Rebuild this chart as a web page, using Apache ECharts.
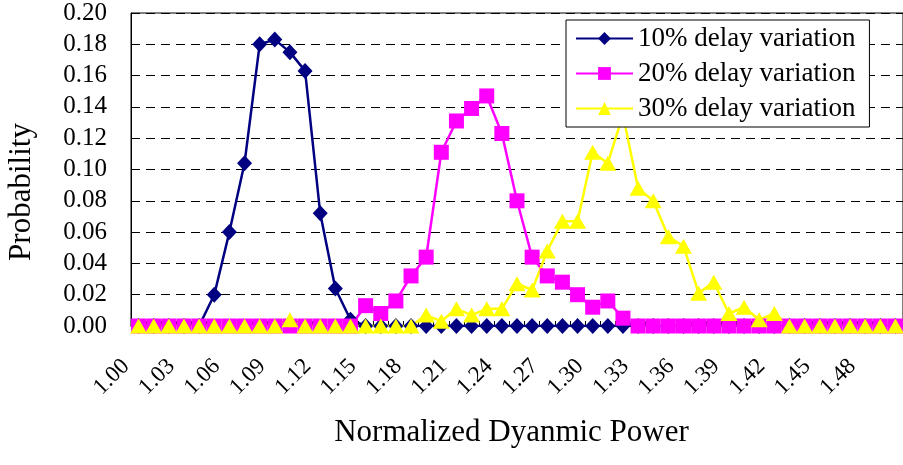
<!DOCTYPE html>
<html>
<head>
<meta charset="utf-8">
<script src="https://cdn.jsdelivr.net/npm/echarts@6/dist/echarts.min.js"></script>
<style>
html,body{margin:0;padding:0;background:#fff;}
#chart{width:903px;height:465px;}
</style>
</head>
<body>
<div id="chart"></div>
<script>
var categories = ['1.00','1.01','1.02','1.03','1.04','1.05','1.06','1.07','1.08','1.09',
  '1.10','1.11','1.12','1.13','1.14','1.15','1.16','1.17','1.18','1.19',
  '1.20','1.21','1.22','1.23','1.24','1.25','1.26','1.27','1.28','1.29',
  '1.30','1.31','1.32','1.33','1.34','1.35','1.36','1.37','1.38','1.39',
  '1.40','1.41','1.42','1.43','1.44','1.45','1.46','1.47','1.48','1.49','1.50'];

var var10 = [0,0,0,0,0,0.020,0.060,0.104,0.180,0.183,
  0.175,0.163,0.072,0.024,0.004,0,0,0,0,0,
  0,0,0,0,0,0,0,0,0,0,
  0,0,0,0,0,0,0,0,0,0,
  0,0,0,0,0,0,0,0,0,0,0];

var var20 = [0,0,0,0,0,0,0,0,0,0,
  0,0,0,0,0,0.013,0.008,0.016,0.032,0.044,
  0.111,0.131,0.139,0.147,0.123,0.080,0.044,0.032,0.028,0.020,
  0.012,0.016,0.005,0,0,0,0,0,0,0,
  0,0,0,0,0,0,0,0,0,0,0];

var var30 = [0,0,0,0,0,0,0,0,0,0,
  0.004,0,0,0,0,0,0,0,0,0.007,
  0.003,0.011,0.007,0.011,0.011,0.027,0.023,0.048,0.067,0.067,
  0.111,0.104,0.135,0.088,0.080,0.057,0.051,0.021,0.028,0.008,
  0.012,0.004,0.008,0,0,0,0,0,0,0,0];

var seriesNames = ['10% delay variation','20% delay variation','30% delay variation'];
var xTitle = 'Normalized Dyanmic Power';
var yTitle = 'Probability';

var FONT = "'Liberation Serif', 'Times New Roman', serif";

var chart = echarts.init(document.getElementById('chart'), null, {renderer: 'canvas'});
chart.setOption({
  animation: false,
  backgroundColor: '#fff',
  grid: {
    left: 131, top: 13, width: 793.6, height: 313,
    show: true, borderColor: '#000', borderWidth: 1, backgroundColor: 'transparent'
  },
  legend: {
    orient: 'vertical',
    left: 566, top: 20,
    padding: [5, 14, 5, 9],
    itemGap: 8,
    itemWidth: 57,
    itemHeight: 16,
    backgroundColor: '#fff',
    borderColor: '#000',
    borderWidth: 1,
    textStyle: {fontFamily: FONT, fontSize: 27, lineHeight: 26, color: '#000'},
    data: seriesNames
  },
  xAxis: {
    type: 'category',
    data: categories,
    boundaryGap: true,
    axisLine: {show: true, lineStyle: {color: '#000', width: 1}},
    axisTick: {show: true, inside: true, length: 5, interval: 0, lineStyle: {color: '#000'}},
    axisLabel: {
      interval: 2, rotate: 45, margin: 24, padding: [0, 18, 0, 0],
      fontFamily: FONT, fontSize: 23, color: '#000'
    },
    splitLine: {show: false}
  },
  yAxis: {
    type: 'value',
    min: 0, max: 0.2, interval: 0.02,
    axisLine: {show: true, lineStyle: {color: '#000', width: 1}},
    axisTick: {show: true, inside: true, length: 5, lineStyle: {color: '#000'}},
    axisLabel: {
      margin: 24, fontFamily: FONT, fontSize: 25, color: '#000',
      formatter: function (v) { return v.toFixed(2); }
    },
    splitLine: {show: true, lineStyle: {color: '#000', width: 1, type: [9, 6]}}
  },
  graphic: [
    {
      type: 'text', x: 22, y: 192, rotation: Math.PI / 2,
      style: {text: yTitle, font: '31px ' + FONT, fill: '#000', textAlign: 'center', textVerticalAlign: 'middle'}
    },
    {
      type: 'text', x: 511.5, y: 433,
      style: {text: xTitle, font: '31px ' + FONT, fill: '#000', textAlign: 'center', textVerticalAlign: 'middle'}
    }
  ],
  series: [
    {
      name: seriesNames[0], type: 'line', data: var10,
      symbol: 'diamond', symbolSize: [15, 16], showAllSymbol: true,
      itemStyle: {color: '#000080'},
      lineStyle: {color: '#000080', width: 2.5}
    },
    {
      name: seriesNames[1], type: 'line', data: var20,
      symbol: 'rect', symbolSize: [15, 15], showAllSymbol: true,
      itemStyle: {color: '#FF00FF'},
      lineStyle: {color: '#FF00FF', width: 2.5}
    },
    {
      name: seriesNames[2], type: 'line', data: var30,
      symbol: 'triangle', symbolSize: [17, 15], showAllSymbol: true,
      itemStyle: {color: '#FFFF00'},
      lineStyle: {color: '#FFFF00', width: 2.5}
    }
  ]
});
</script>
</body>
</html>
